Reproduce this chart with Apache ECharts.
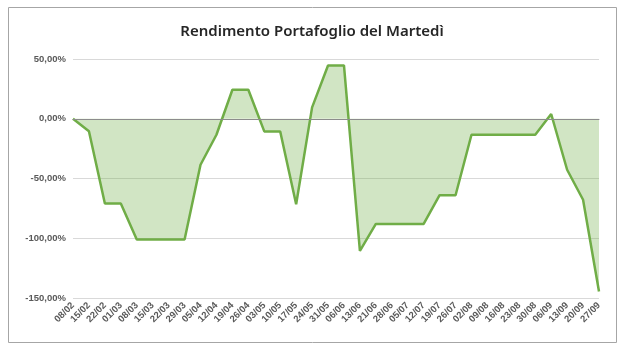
<!DOCTYPE html>
<html><head><meta charset="utf-8">
<script src="https://cdn.jsdelivr.net/npm/echarts@6/dist/echarts.min.js"></script>
<style>html,body{margin:0;padding:0;background:#fff}#c{width:624px;height:352px}</style>
</head><body><div id="c"></div>
<script>
const categories = ["08/02","15/02","22/02","01/03","08/03","15/03","22/03","29/03","05/04","12/04","19/04","26/04","03/05","10/05","17/05","24/05","31/05","06/06","13/06","21/06","28/06","05/07","12/07","19/07","26/07","02/08","09/08","16/08","23/08","30/08","06/09","13/09","20/09","27/09"];
const rendimento = [0,-10.5,-71,-71,-101,-101,-101,-101,-38.5,-13.4,24.3,24.3,-10.6,-10.6,-71.5,9.5,44.6,44.6,-110.5,-88,-88,-88,-88,-64,-64,-13.4,-13.4,-13.4,-13.4,-13.4,4,-42.7,-67.8,-144.5];
const yTicks = {min:-150, max:50, interval:50};

const chart = echarts.init(document.getElementById('c'));
chart.setOption({
  animation:false,
  title:{text:'Rendimento Portafoglio del Martedì', left:'center', top:19,
    textStyle:{fontFamily:'Noto Sans', fontSize:15, fontWeight:600, color:'#262626'}},
  graphic:[{type:'rect', shape:{x:8.5,y:7.5,width:608,height:335}, style:{fill:'none', stroke:'#a6a6a6', lineWidth:1}, silent:true}],
  grid:{left:73, right:25, top:59, bottom:54, containLabel:false},
  xAxis:{type:'category', data:categories, boundaryGap:false, z:1,
    axisLine:{onZero:true, lineStyle:{color:'#8c8c8c', width:1}},
    axisTick:{show:false},
    axisLabel:{rotate:45, interval:0, fontFamily:'Liberation Sans', fontSize:9.5, fontWeight:'bold', color:'#595959', margin:6}},
  yAxis:{type:'value', min:yTicks.min, max:yTicks.max, interval:yTicks.interval, z:0,
    axisLine:{show:false}, axisTick:{show:false},
    splitLine:{lineStyle:{color:'#d9d9d9', width:1}},
    axisLabel:{formatter:v=>v.toFixed(2).replace('.',',')+'%', fontFamily:'Liberation Sans', fontSize:9.5, fontWeight:'bold', color:'#595959', margin:7}},
  series:[{type:'line', data:rendimento, symbol:'none', z:2,
    lineStyle:{color:'#70ad47', width:2.5},
    areaStyle:{color:'rgba(112,173,71,0.32)', opacity:1, origin:0}}]
});
chart.setOption({xAxis:{z:3}});
</script></body></html>
